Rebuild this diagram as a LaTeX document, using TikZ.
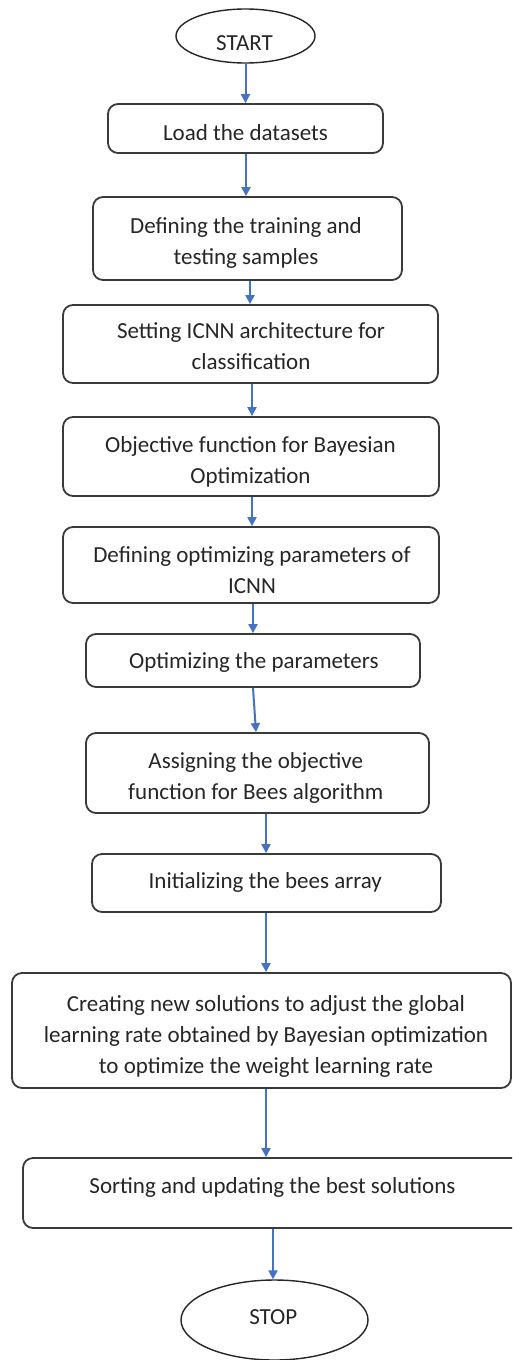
\documentclass[tikz,border=0pt]{standalone}
\usepackage{fontspec}
\setmainfont{Carlito}
\usetikzlibrary{arrows.meta,shapes.geometric}
\definecolor{flowblue}{HTML}{4472C4}
\definecolor{boxline}{HTML}{3A3A3A}
\definecolor{txt}{HTML}{262626}
\tikzset{
  stepbox/.style={draw=boxline, line width=1.8pt, rounded corners=10pt, inner sep=0pt},
  term/.style={draw=black!85, line width=1.4pt, ellipse, inner sep=0pt},
  lbl/.style={align=center, inner sep=0pt, text=txt, font=\fontsize{23}{31}\selectfont},
  arr/.style={draw=flowblue, line width=2pt, -{Triangle[width=9pt,length=9pt]}}
}
% one text line with a fixed height and depth
\newcommand{\tline}[1]{\strut#1}
\begin{document}
\begin{tikzpicture}[x=1pt,y=-1pt]
\useasboundingbox (0,0) rectangle (512,1360);
\clip (0,0) rectangle (512,1360);
\fill[white] (0,0) rectangle (512,1360);

% shapes of the flow
\node[term, minimum width=139pt, minimum height=54pt] (start) at (245.5,36) {};
\node[stepbox, minimum width=275pt, minimum height=49pt] (load) at (245.5,128.5) {};
\node[stepbox, minimum width=309pt, minimum height=83pt] (def) at (247.5,238.5) {};
\node[stepbox, minimum width=375pt, minimum height=78pt] (set) at (250.5,344) {};
\node[stepbox, minimum width=376pt, minimum height=79pt] (obj) at (251,456.5) {};
\node[stepbox, minimum width=376pt, minimum height=76pt] (par) at (251,565) {};
\node[stepbox, minimum width=334pt, minimum height=53pt] (opt) at (253,660.5) {};
\node[stepbox, minimum width=343pt, minimum height=80pt] (bee) at (257.5,773) {};
\node[stepbox, minimum width=349pt, minimum height=58pt] (init) at (266.5,883) {};
\node[stepbox, minimum width=499pt, minimum height=115pt] (new) at (261.5,1030.5) {};
\node[stepbox, minimum width=500pt, minimum height=70pt] (sort) at (273,1193) {};
\node[term, minimum width=187pt, minimum height=80pt] (stop) at (274.5,1320) {};

% texts
\node[lbl] (startT) at (244.5,43.8) {\tline{START}};
\node[lbl] (loadT) at (245.5,133.8) {\tline{Load the datasets}};
\node[lbl] (defT) at (246,242.8) {\tline{Defining the training and}\\\tline{testing samples}};
\node[lbl] (setT) at (251,348) {\tline{Setting ICNN architecture for}\\\tline{classification}};
\node[lbl] (objT) at (250.5,461.3) {\tline{Objective function for Bayesian}\\\tline{Optimization}};
\node[lbl] (parT) at (252,571.3) {\tline{Defining optimizing parameters of}\\\tline{ICNN}};
\node[lbl] (optT) at (253.8,661.8) {\tline{Optimizing the parameters}};
\node[lbl] (beeT) at (255.8,777.3) {\tline{Assigning the objective}\\\tline{function for Bees algorithm}};
\node[lbl] (initT) at (265.3,881.8) {\tline{Initializing the bees array}};
\node[lbl] (newT) at (266,1035.8) {\tline{Creating new solutions to adjust the global}\\\tline{learning rate obtained by Bayesian optimization}\\\tline{to optimize the weight learning rate}};
\node[lbl] (sortT) at (272.5,1186.8) {\tline{Sorting and updating the best solutions}};
\node[lbl] (stopT) at (273.3,1317.8) {\tline{STOP}};

% connectors
\draw[arr] (start.south) -- (load.north);
\draw[arr] ([xshift=0.5pt]load.south) -- ([xshift=-1.5pt]def.north);
\draw[arr] ([xshift=2.5pt]def.south) -- ([xshift=-0.5pt]set.north);
\draw[arr] ([xshift=1.5pt]set.south) -- ([xshift=1pt]obj.north);
\draw[arr] ([xshift=1pt]obj.south) -- ([xshift=1pt]par.north);
\draw[arr] ([xshift=2pt]par.south) -- (opt.north);
\draw[arr] (opt.south) -- ([xshift=-1.5pt]bee.north);
\draw[arr] ([xshift=8.5pt]bee.south) -- ([xshift=-0.5pt]init.north);
\draw[arr] ([xshift=-0.5pt]init.south) -- ([xshift=4.5pt]new.north);
\draw[arr] ([xshift=4.5pt]new.south) -- ([xshift=-7pt]sort.north);
\draw[arr] (sort.south) -- ([xshift=-1.5pt]stop.north);
\end{tikzpicture}
\end{document}
